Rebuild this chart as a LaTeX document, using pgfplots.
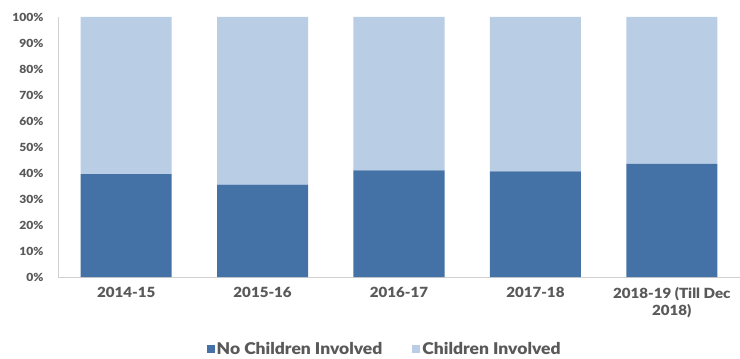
\documentclass[border=0pt]{standalone}
\usepackage{pgfplots}
\pgfplotsset{compat=1.18}
\usepackage{fontspec}
\setmainfont{Lato}[BoldFont={Lato Black}]
\newfontfamily\gill{Lato Black}[FakeStretch=1.08]
\definecolor{darkb}{HTML}{4472A6}
\definecolor{lightb}{HTML}{B9CDE5}
\definecolor{txt}{HTML}{595959}
\definecolor{axl}{HTML}{D0D0D0}
\begin{document}
\begin{tikzpicture}[x=1pt,y=1pt]
\useasboundingbox (-58pt,-82pt) rectangle (682pt,277pt);
\begin{axis}[
  at={(0pt,0pt)}, anchor=south west,
  scale only axis, width=682pt, height=260pt,
  ybar stacked, bar width=91pt,
  xmin=-0.5, xmax=4.5, ymin=0, ymax=100,
  xtick=data,
  xticklabels={2014-15,2015-16,2016-17,2017-18,{2018-19 (Till Dec\\2018)}},
  xticklabel style={align=center, font=\gill\fontsize{14}{17}\selectfont, text=txt, yshift=-7pt},
  ytick={0,10,...,100},
  yticklabel={\pgfmathprintnumber{\tick}\%},
  yticklabel style={font=\gill\fontsize{11.2}{13}\selectfont, text=txt, xshift=-11pt},
  /pgf/number format/assume math mode=true,
  major tick length=0pt,
  axis x line*=bottom, axis y line*=left,
  axis line style={axl, line width=0.8pt, -},
  x axis line style={-}, y axis line style={-},
  legend style={at={(0.479,-0.277)}, anchor=center, draw=none, legend columns=2,
    font=\gill\fontsize{16.2}{18}\selectfont, text=txt,
    /tikz/every even column/.append style={column sep=28pt}},
  legend image code/.code={\fill[#1] (0pt,-4pt) rectangle (8pt,4pt);},
]
\addplot[fill=darkb, draw=none] coordinates {(0,39.6) (1,35.5) (2,41.0) (3,40.6) (4,43.5)};
\addplot[fill=lightb, draw=none] coordinates {(0,60.4) (1,64.5) (2,59.0) (3,59.4) (4,56.5)};
\legend{No Children Involved, Children Involved}
\end{axis}
\end{tikzpicture}
\end{document}
